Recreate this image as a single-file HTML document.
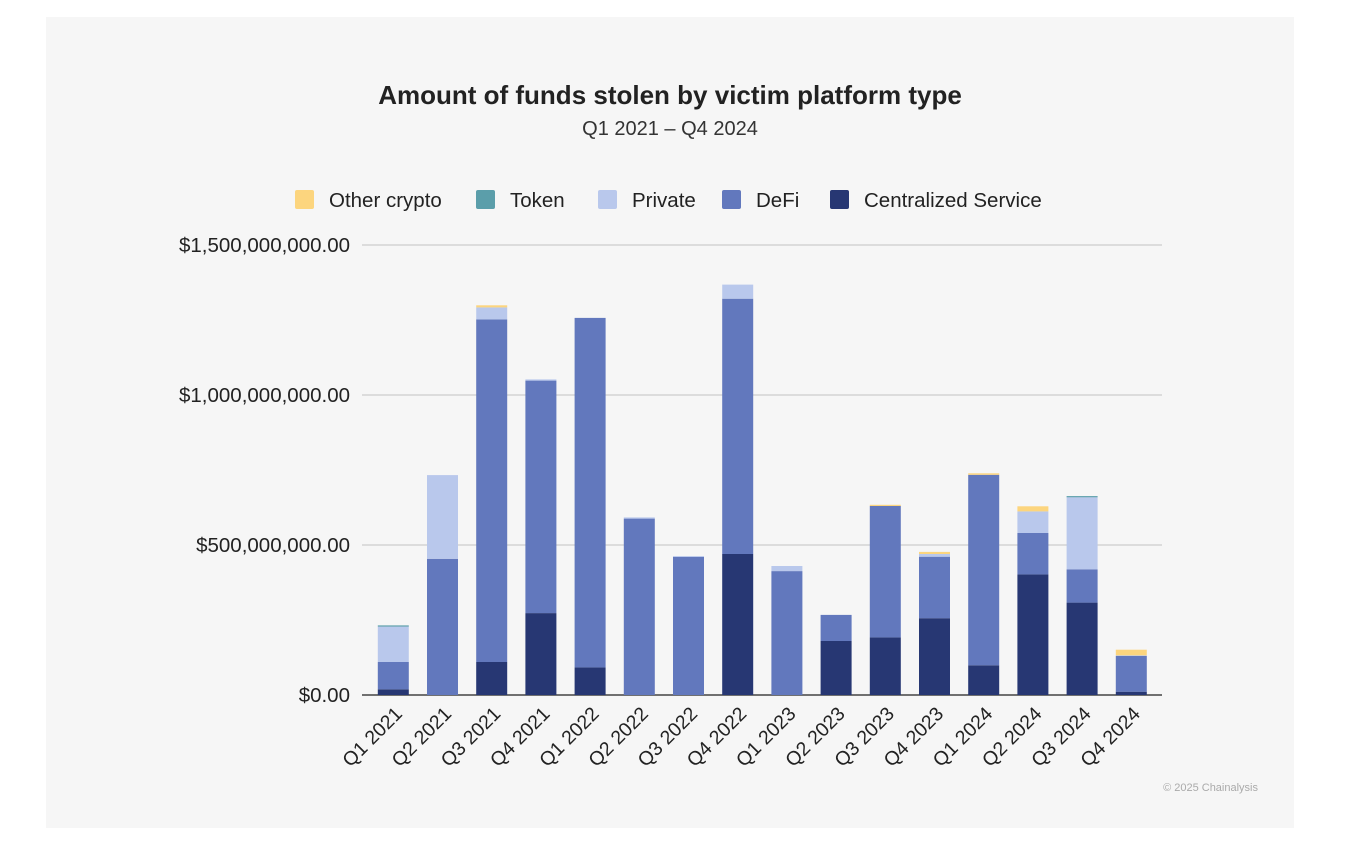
<!DOCTYPE html>
<html><head><meta charset="utf-8"><style>
body{margin:0;background:#fff;width:1356px;height:848px;overflow:hidden;font-family:"Liberation Sans",sans-serif}
#panel{position:absolute;left:46px;top:17px;width:1248px;height:811px;background:#f6f6f6}
</style></head><body>
<div id="panel"></div>
<svg id="chart" width="1356" height="848" style="position:absolute;left:0;top:0">
<text x="670" y="104" text-anchor="middle" font-size="26" font-weight="bold" fill="#222">Amount of funds stolen by victim platform type</text>
<text x="670" y="135" text-anchor="middle" font-size="20" fill="#333">Q1 2021 – Q4 2024</text>
<g id="legend"></g><g id="grid"></g><g id="bars"></g><g id="xlabels"></g>
<text x="1258" y="791" text-anchor="end" font-size="11" fill="#aaa">© 2025 Chainalysis</text>
</svg>
<script>
const categories=["Q1 2021","Q2 2021","Q3 2021","Q4 2021","Q1 2022","Q2 2022","Q3 2022","Q4 2022","Q1 2023","Q2 2023","Q3 2023","Q4 2023","Q1 2024","Q2 2024","Q3 2024","Q4 2024"];
const centralized=[19,0,110,273,92,0,0,470,0,180,192,256,99,402,308,11];
const defi=[91,454,1142,775,1165,588,460,851,413,87,438,205,635,138,111,119];
const privateV=[118,279,40,4,0,4,3,47,17,0,0,9,0,72,240,2];
const token=[4,0,0,0,0,0,0,0,0,0,0,0,0,0,4,0];
const otherCrypto=[0,0,7,0,0,0,0,0,0,0,4,7,5,17,0,19];
const seriesNames=["Other crypto","Token","Private","DeFi","Centralized Service"];
const yTicks=[0,500,1000,1500];
const yTickLabels=["$0.00","$500,000,000.00","$1,000,000,000.00","$1,500,000,000.00"];
const colors={"Centralized Service":"#273773","DeFi":"#6278bd","Private":"#b9c8ec","Token":"#5b9eaa","Other crypto":"#fcd57e"};
const NS="http://www.w3.org/2000/svg";
const y0=695,pxPerM=0.3;
const yScale=v=>y0-v*pxPerM;
const xCenter=i=>393.3+i*49.2;
const barW=31;
function mk(tag,attrs,parent){const e=document.createElementNS(NS,tag);for(const k in attrs)e.setAttribute(k,attrs[k]);parent.appendChild(e);return e;}
const grid=document.getElementById('grid');
yTicks.forEach((t,i)=>{
  const l=mk('line',{x1:362,x2:1162,y1:yScale(t),y2:yScale(t),stroke:i==0?'#444':'#ccc','stroke-width':i==0?1.5:1.2},grid);
  
  
  const tx=mk('text',{x:350,y:yScale(t)+7,'text-anchor':'end','font-size':20.5,fill:'#222'},grid);
  tx.textContent=yTickLabels[i];
  
  
});
const bars=document.getElementById('bars');
const stack=[["Centralized Service",centralized],["DeFi",defi],["Private",privateV],["Token",token],["Other crypto",otherCrypto]];
categories.forEach((c,i)=>{
  let base=0;
  stack.forEach(([name,arr])=>{
    const v=arr[i]; if(v<=0)return;
    const r=mk('rect',{x:xCenter(i)-barW/2,y:yScale(base+v),width:barW,height:v*pxPerM,fill:colors[name]},bars);
    
    
    base+=v;
  });
  const g=mk('text',{transform:`translate(${xCenter(i)+10},${715}) rotate(-45)`,'text-anchor':'end','font-size':19.5,fill:'#222'},document.getElementById('xlabels'));
  g.textContent=c;
  
  
});
const lg=document.getElementById('legend');
const lx=[295,476,598,722,830];
seriesNames.forEach((n,i)=>{
  const r=mk('rect',{x:lx[i],y:190,width:19,height:19,rx:2,fill:colors[n]},lg);
  
  
  const t=mk('text',{x:lx[i]+34,y:207,'font-size':20.5,fill:'#222'},lg);
  t.textContent=n;
  
  
});
</script>
</body></html>
